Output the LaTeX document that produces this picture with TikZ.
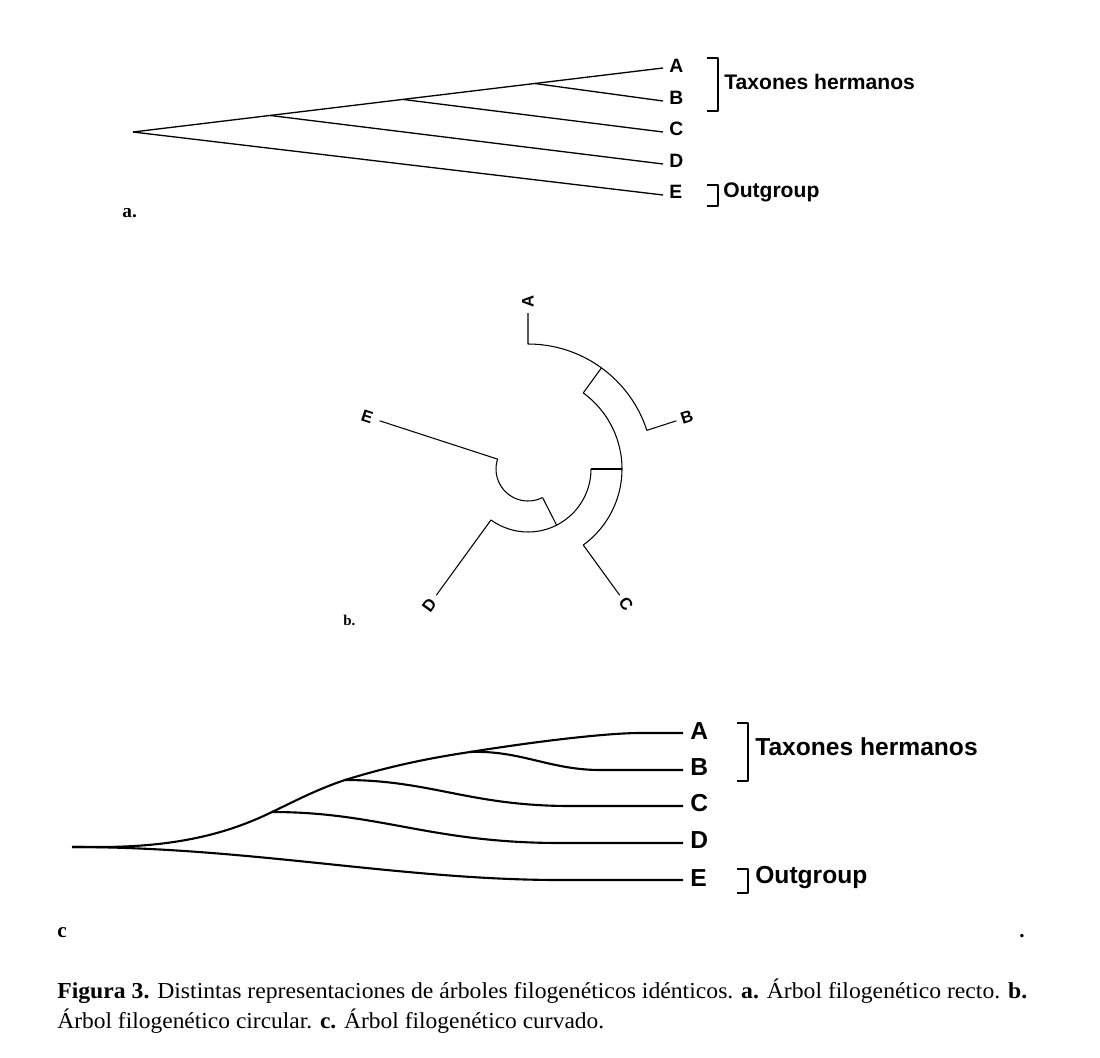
\documentclass[tikz,border=0pt]{standalone}
\usepackage{fontspec}
\setmainfont{Liberation Serif}
\setsansfont{Liberation Sans}
\usetikzlibrary{calc}
\begin{document}
\begin{tikzpicture}[x=0.02cm,y=-0.02cm,
  line join=round,
  treea/.style={line width=0.75pt},
  treeb/.style={line width=0.6pt},
  treec/.style={line width=1.2pt},
  leafa/.style={font=\sffamily\bfseries\fontsize{11}{13}\selectfont, anchor=west, inner sep=0pt},
  groupa/.style={font=\sffamily\bfseries\fontsize{12}{14}\selectfont, anchor=west, inner sep=0pt},
  leafb/.style={font=\sffamily\bfseries\fontsize{9.5}{11}\selectfont, inner sep=0pt},
  leafc/.style={font=\sffamily\bfseries\fontsize{14}{16}\selectfont, anchor=west, inner sep=0pt},
  groupc/.style={font=\sffamily\bfseries\fontsize{14}{16}\selectfont, anchor=west, inner sep=0pt},
  panel/.style={font=\bfseries\fontsize{11}{13}\selectfont, anchor=base west, inner sep=0pt},
  bracket/.style={line width=0.8pt},
  capt/.style={font=\fontsize{13}{15}\selectfont, anchor=base west, inner sep=0pt}]
\path[use as bounding box, fill=white] (0,0) rectangle (1100,1058);

% ---------------- a: straight tree ----------------
\coordinate (aR) at (133,132);
\coordinate (aA) at (663,68);
\coordinate (aB) at (663,101);
\coordinate (aC) at (663,132);
\coordinate (aD) at (663,164);
\coordinate (aE) at (663,195);
\coordinate (aN1) at ($(aR)!0.2585!(aA)$);
\coordinate (aN2) at ($(aR)!0.509!(aA)$);
\coordinate (aN3) at ($(aR)!0.758!(aA)$);
\draw[treea] (aR) -- (aA);
\draw[treea] (aR) -- (aE);
\draw[treea] (aN1) -- (aD);
\draw[treea] (aN2) -- (aC);
\draw[treea] (aN3) -- (aB);
\node[leafa] (laA) at ($(aA)+(6,-2)$) {A};
\node[leafa] (laB) at ($(aB)+(6,-3)$) {B};
\node[leafa] (laC) at ($(aC)+(6,-3)$) {C};
\node[leafa] (laD) at ($(aD)+(6,-3)$) {D};
\node[leafa] (laE) at ($(aE)+(6,-3)$) {E};
\draw[bracket] (707,58) -- (718,58) -- (718,111) -- (707,111);
\draw[bracket] (707,185) -- (718,185) -- (718,206) -- (707,206);
\node[groupa] (gaT) at (724,82) {Taxones hermanos};
\node[groupa] (gaO) at (723,192) {Outgroup};
\node[panel] (pa) at (122,217) {a.};

% ---------------- b: circular tree ----------------
\begin{scope}[shift={(528,469)}, x=0.02cm, y=0.02cm]
  \coordinate (bA0) at (90:125);  \coordinate (bA) at (90:156);
  \coordinate (bB0) at (18:125);  \coordinate (bB) at (18:156);
  \coordinate (bC0) at (-54:94);  \coordinate (bC) at (-54:156);
  \coordinate (bD0) at (-126:63); \coordinate (bD) at (-126:156);
  \coordinate (bE0) at (162:32);  \coordinate (bE) at (162:156);
  \coordinate (bN1i) at (54:94);  \coordinate (bN1o) at (54:125);
  \coordinate (bN2i) at (0:63);   \coordinate (bN2o) at (0:94);
  \coordinate (bN3i) at (-63:32); \coordinate (bN3o) at (-63:63);
  \draw[treeb] (bA) -- (bA0) arc[start angle=90, end angle=18, radius=2.5cm] -- (bB);
  \draw[treeb] (bN1i) -- (bN1o);
  \draw[treeb] (bN1i) arc[start angle=54, end angle=-54, radius=1.88cm] -- (bC);
  \draw[treeb] (bN2i) -- (bN2o);
  \draw[treeb] (bN2i) arc[start angle=0, end angle=-126, radius=1.26cm] -- (bD);
  \draw[treeb] (bN3i) -- (bN3o);
  \draw[treeb] (bN3i) arc[start angle=-63, end angle=-198, radius=0.64cm] -- (bE);
  \node[leafb, rotate=90] (lbA) at (90:168) {A};
  \node[leafb, rotate=18] (lbB) at (18:167) {B};
  \node[leafb, rotate=-54] (lbC) at (-54:167) {C};
  \node[leafb, rotate=54] (lbD) at (-126:168) {D};
  \node[leafb, rotate=-18] (lbE) at (162:169) {E};
\end{scope}
\node[panel, font=\bfseries\fontsize{8.5}{10}\selectfont] (pb) at (343,625) {b.};

% ---------------- c: curved tree ----------------
\coordinate (cR) at (72,847);
\coordinate (cN1) at (272,812);
\coordinate (cN2) at (345,780);
\coordinate (cN3) at (470,752);
\coordinate (cA) at (683,733);
\coordinate (cB) at (683,770);
\coordinate (cC) at (683,806);
\coordinate (cD) at (683,843);
\coordinate (cE) at (683,880);
\draw[treec] (cR) -- (100,847) .. controls (185,847) and (235,830) .. (cN1)
  .. controls (297,800) and (318,789) .. (cN2)
  .. controls (390,766) and (430,758) .. (cN3)
  .. controls (545,740) and (610,733) .. (640,733) -- (cA);
\draw[treec] (cR) .. controls (250,847) and (400,880) .. (560,880) -- (cE);
\draw[treec] (cN1) .. controls (380,812) and (430,843) .. (560,843) -- (cD);
\draw[treec] (cN2) .. controls (430,780) and (470,806) .. (570,806) -- (cC);
\draw[treec] (cN3) .. controls (520,750) and (550,770) .. (600,770) -- (cB);
\node[leafc] (lcA) at ($(cA)+(7,-2)$) {A};
\node[leafc] (lcB) at ($(cB)+(7,-3)$) {B};
\node[leafc] (lcC) at ($(cC)+(7,-3)$) {C};
\node[leafc] (lcD) at ($(cD)+(7,-3)$) {D};
\node[leafc] (lcE) at ($(cE)+(7,-2)$) {E};
\draw[bracket, line width=1pt] (737,723) -- (748,723) -- (748,781) -- (737,781);
\draw[bracket, line width=1pt] (737,869) -- (748,869) -- (748,893) -- (737,893);
\node[groupc] (gcT) at (755,747) {Taxones hermanos};
\node[groupc] (gcO) at (755,878) {Outgroup};
\node[panel, font=\bfseries\fontsize{12}{14}\selectfont] (pc) at (57,937) {c};
\node[panel, font=\bfseries\fontsize{12}{14}\selectfont] (pdot) at (1019,937) {.};

% ---------------- caption ----------------
\node[capt] (cap1) at (57,998) {\resizebox{19.4cm}{\height}{\textbf{Figura 3.} Distintas representaciones de árboles filogenéticos idénticos. \textbf{a.} Árbol filogenético recto. \textbf{b.}}};
\node[capt] (cap2) at (57,1028) {\resizebox{10.94cm}{\height}{Árbol filogenético circular. \textbf{c.} Árbol filogenético curvado.}};
\end{tikzpicture}
\end{document}
